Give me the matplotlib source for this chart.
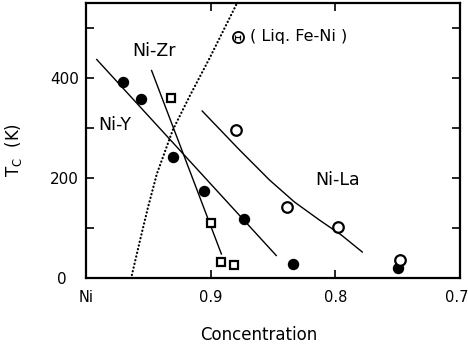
import matplotlib
matplotlib.use("Agg")
import matplotlib.pyplot as plt
import matplotlib.transforms as mtransforms

# Ni-Y (filled circles)
ni_y_conc = [0.970, 0.956, 0.930, 0.905, 0.873, 0.834, 0.750]
ni_y_tc = [392, 358, 242, 175, 118, 28, 20]
ni_y_fit_conc = [0.9914, 0.8474]
ni_y_fit_tc = [437, 45]

# Ni-Zr (open squares)
ni_zr_conc = [0.932, 0.900, 0.892, 0.881]
ni_zr_tc = [360, 111, 32, 26]
ni_zr_fit_conc = [0.9474, 0.8914]
ni_zr_fit_tc = [415, 48]

# Ni-La (open circles)
ni_la_conc = [0.880, 0.839, 0.798, 0.748]
ni_la_tc = [296, 142, 102, 36]
ni_la_fit_conc = [0.9068, 0.8768, 0.8528, 0.8328, 0.8128, 0.7952, 0.7784]
ni_la_fit_tc = [334, 256, 196, 152, 116, 86, 52]

# liquid Fe-Ni curve (dotted)
liq_conc = [0.9632, 0.9568, 0.9504, 0.9432, 0.9304, 0.9168, 0.9008, 0.8792, 0.8768]
liq_tc = [6, 74, 140, 208, 296, 364, 440, 548, 560]

x_ticks = [1.0, 0.9, 0.8, 0.7]
x_labels = ["Ni", "0.9", "0.8", "0.7"]
y_ticks = [0, 100, 200, 300, 400, 500]
y_labels = ["0", "", "200", "", "400", ""]

fig = plt.figure(figsize=(4.68, 3.5), dpi=100)
ax = fig.add_axes([86 / 468, 1 - 278 / 350, 374 / 468, 275 / 350])

ax.plot(liq_conc, liq_tc, color="black", lw=1.6, linestyle=(0, (0.1, 1.6)),
        dash_capstyle="round")
ax.plot(ni_y_fit_conc, ni_y_fit_tc, color="black", lw=1.0)
ax.plot(ni_zr_fit_conc, ni_zr_fit_tc, color="black", lw=1.0)
ax.plot(ni_la_fit_conc, ni_la_fit_tc, color="black", lw=1.0)

ax.plot(ni_y_conc, ni_y_tc, "o", ms=7.2, color="black", mec="black")
ax.plot(ni_zr_conc, ni_zr_tc, "s", ms=6.3, mfc="white", mec="black", mew=1.6)
ax.plot(ni_la_conc, ni_la_tc, "o", ms=7.6, mfc="white", mec="black", mew=1.6)

ax.set_xlim(1.0, 0.7)
ax.set_ylim(0, 550)

ax.set_xticks(x_ticks)
ax.set_xticklabels(x_labels, fontsize=10.5)
ax.set_yticks(y_ticks)
ax.set_yticklabels(y_labels, fontsize=11)
ax.tick_params(direction="in", length=6, width=1.2, top=True, right=True)
ax.tick_params(axis="x", pad=9)
ax.tick_params(axis="y", pad=5)

# the zero label sits a little to the left of the others
zero = ax.get_yticklabels()[0]
zero.set_transform(zero.get_transform()
                   + mtransforms.ScaledTranslation(-12 / 100, 0, fig.dpi_scale_trans))
# keep the last concentration label inside the figure
last = ax.get_xticklabels()[-1]
last.set_transform(last.get_transform()
                   + mtransforms.ScaledTranslation(-3 / 100, 0, fig.dpi_scale_trans))

for s in ax.spines.values():
    s.set_linewidth(1.6)

ax.set_xlabel("Concentration", fontsize=12)
ax.xaxis.set_label_coords((258.7 - 86) / 374, -(326 - 278) / 275)
ax.set_ylabel(r"T$_\mathrm{C}$  (K)", fontsize=12)
ax.yaxis.set_label_coords(-(86 - 24) / 374, (278 - 150) / 275)

ax.text(0.9456, 454, "Ni-Zr", fontsize=12.5, ha="center", va="center")
ax.text(0.9904, 306, "Ni-Y", fontsize=12.5, ha="left", va="center")
ax.text(0.7984, 196, "Ni-La", fontsize=12.5, ha="center", va="center")

# key symbol for the liquid alloy curve
sx, sy = (237.5 - 86) / 374, (278 - 36.5) / 275
ax.plot([sx], [sy], "o", ms=8, mfc="white", mec="black", mew=1.3,
        transform=ax.transAxes, clip_on=False)
ax.errorbar([sx], [sy], xerr=[0.006], fmt="none", ecolor="black",
            elinewidth=0.9, capsize=1.8, capthick=0.9, transform=ax.transAxes)
ax.text((250 - 86) / 374, sy, "( Liq. Fe-Ni )", fontsize=11.5, ha="left",
        va="center", transform=ax.transAxes)

fig.savefig("out.png", dpi=100)
